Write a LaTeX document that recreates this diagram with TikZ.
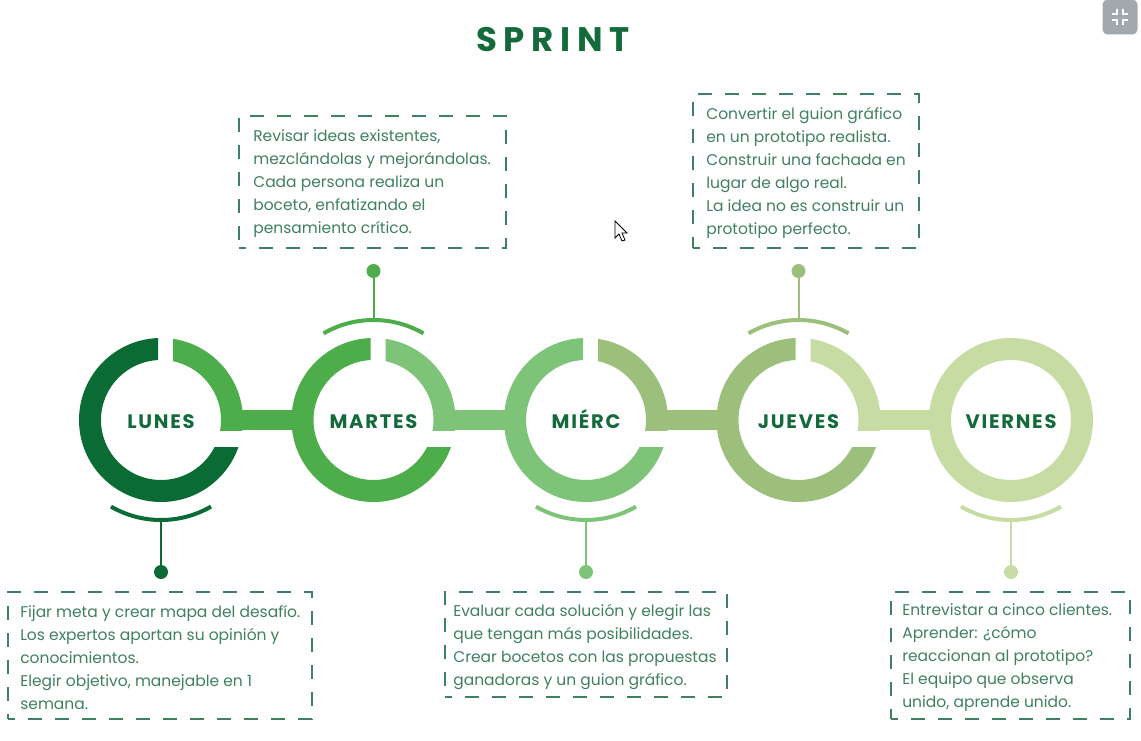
\documentclass[tikz,border=0pt]{standalone}
\usepackage{fontspec}
\setmainfont{Poppins}
\newfontfamily\titlefont[LetterSpace=20]{Poppins}
\newfontfamily\dayfont[LetterSpace=9]{Poppins}
\usetikzlibrary{positioning}

% ring colours, dark to light
\definecolor{dayA}{HTML}{0B6B35}
\definecolor{dayB}{HTML}{4DAD4B}
\definecolor{dayC}{HTML}{7DC378}
\definecolor{dayD}{HTML}{9DBF7C}
\definecolor{dayE}{HTML}{C6DCA3}
\definecolor{titlegreen}{HTML}{136A3A}
\definecolor{boxgreen}{HTML}{3F8060}
\definecolor{btngray}{HTML}{A3A7B0}

\tikzset{
  titletext/.style={font=\titlefont\bfseries\fontsize{34}{40}\selectfont, text=titlegreen, inner sep=0pt},
  daytext/.style={font=\dayfont\bfseries\fontsize{19.5}{22}\selectfont, text=titlegreen, inner sep=0pt, text height=14pt, text depth=0pt},
  notebox/.style={draw=boxgreen, line width=1.8pt, dash pattern=on 14pt off 13pt, dash phase=7pt, inner sep=0pt},
  notetext/.style={font=\fontsize{15.5}{23}\selectfont, text=boxgreen, align=left, inner sep=0pt, anchor=west, yshift=-2pt},
  dot/.style={circle, minimum size=14pt, inner sep=0pt},
  stem/.style={line width=2pt},
  stemarc/.style={line width=4pt}
}

\begin{document}
\begin{tikzpicture}[x=1pt,y=-1pt]
\useasboundingbox (0,0) rectangle (1141,741);

% title
\node[titletext] (title) at (553,40) {SPRINT};

% rings: left part in own colour, upper right part and bar in the next colour
\foreach \cx/\cl/\cr in {161/dayA/dayB, 373.5/dayB/dayC, 586/dayC/dayD, 798.5/dayD/dayE} {
  \begin{scope}
    \clip (\cx-100,300) rectangle (\cx-3,540) (\cx-100,447) rectangle (\cx+100,540);
    \fill[\cl, even odd rule] (\cx,420) circle (82) (\cx,420) circle (60);
  \end{scope}
  \begin{scope}
    \clip (\cx+12,300) rectangle (\cx+100,430);
    \fill[\cr, even odd rule] (\cx,420) circle (82) (\cx,420) circle (60);
  \end{scope}
  \fill[\cr] (\cx+60,410) rectangle (\cx+137,430);
}
% last ring is closed
\fill[dayE, even odd rule] (1011,420) circle (82) (1011,420) circle (60);

% day names
\node[daytext] (lunes) at (161,421) {LUNES};
\node[daytext] (martes) at (373.5,421) {MARTES};
\node[daytext] (mierc) at (586,421) {MIÉRC};
\node[daytext] (jueves) at (798.5,421) {JUEVES};
\node[daytext] (viernes) at (1011,421) {VIERNES};

% arcs with stems and dots
\foreach \cx/\cc/\side in {373.5/dayB/-1, 798.5/dayD/-1, 161/dayA/1, 586/dayC/1, 1011/dayE/1} {
  \ifnum\side<0
    \draw[stemarc, \cc] (\cx,420) ++(240:100) arc[start angle=240, end angle=300, radius=100];
  \else
    \draw[stemarc, \cc] (\cx,420) ++(60:100) arc[start angle=60, end angle=120, radius=100];
  \fi
}
\coordinate (arcB) at (373.5,320);
\coordinate (arcD) at (798.5,320);
\coordinate (arcA) at (161,520);
\coordinate (arcC) at (586,520);
\coordinate (arcE) at (1011,520);
\node[dot, fill=dayB] (dotB) at (373.5,271) {};
\node[dot, fill=dayD] (dotD) at (798.5,271) {};
\node[dot, fill=dayA] (dotA) at (161,572) {};
\node[dot, fill=dayC] (dotC) at (586,572) {};
\node[dot, fill=dayE] (dotE) at (1011,572) {};
\draw[stem, dayB] (arcB) -- (dotB);
\draw[stem, dayD] (arcD) -- (dotD);
\draw[stem, dayA] (arcA) -- (dotA);
\draw[stem, dayC] (arcC) -- (dotC);
\draw[stem, dayE] (arcE) -- (dotE);

% note boxes
\node[notebox, minimum width=267pt, minimum height=132pt] (boxB) at (372.5,182) {};
\node[notetext] (textB) at ([xshift=15pt]boxB.west) {Revisar ideas existentes,\\mezclándolas y mejorándolas.\\Cada persona realiza un\\boceto, enfatizando el\\pensamiento crítico.};

\node[notebox, minimum width=226pt, minimum height=154pt] (boxD) at (806,171) {};
\node[notetext] (textD) at ([xshift=14pt]boxD.west) {Convertir el guion gráfico\\en un prototipo realista.\\Construir una fachada en\\lugar de algo real.\\La idea no es construir un\\prototipo perfecto.};

\node[notebox, minimum width=304pt, minimum height=127pt] (boxA) at (160,655.5) {};
\node[notetext] (textA) at ([xshift=13pt]boxA.west) {Fijar meta y crear mapa del desafío.\\Los expertos aportan su opinión y\\conocimientos.\\Elegir objetivo, manejable en 1\\semana.};

\node[notebox, minimum width=282pt, minimum height=105pt] (boxC) at (586,644.5) {};
\node[notetext] (textC) at ([xshift=9pt]boxC.west) {Evaluar cada solución y elegir las\\que tengan más posibilidades.\\Crear bocetos con las propuestas\\ganadoras y un guion gráfico.};

\node[notebox, minimum width=239pt, minimum height=127pt] (boxE) at (1010.5,655.5) {};
\node[notetext] (textE) at ([xshift=12pt]boxE.west) {Entrevistar a cinco clientes.\\Aprender: ¿cómo\\reaccionan al prototipo?\\El equipo que observa\\unido, aprende unido.};

% screen button and pointer
\node[fill=btngray, rounded corners=5pt, minimum size=35pt, inner sep=0pt] (btn) at (1120,17) {};
\draw[white, line width=1.6pt] ([shift={(-8pt,-3pt)}]btn.center) -- ++(5pt,0) -- ++(0,-5pt)
  ([shift={(8pt,-3pt)}]btn.center) -- ++(-5pt,0) -- ++(0,-5pt)
  ([shift={(-8pt,3pt)}]btn.center) -- ++(5pt,0) -- ++(0,5pt)
  ([shift={(8pt,3pt)}]btn.center) -- ++(-5pt,0) -- ++(0,5pt);
\draw[fill=white, line width=0.8pt] (615,221) -- (615,238) -- (619,234) -- (622,241) -- (625,240) -- (622,233) -- (627,233) -- cycle;
\end{tikzpicture}
\end{document}
